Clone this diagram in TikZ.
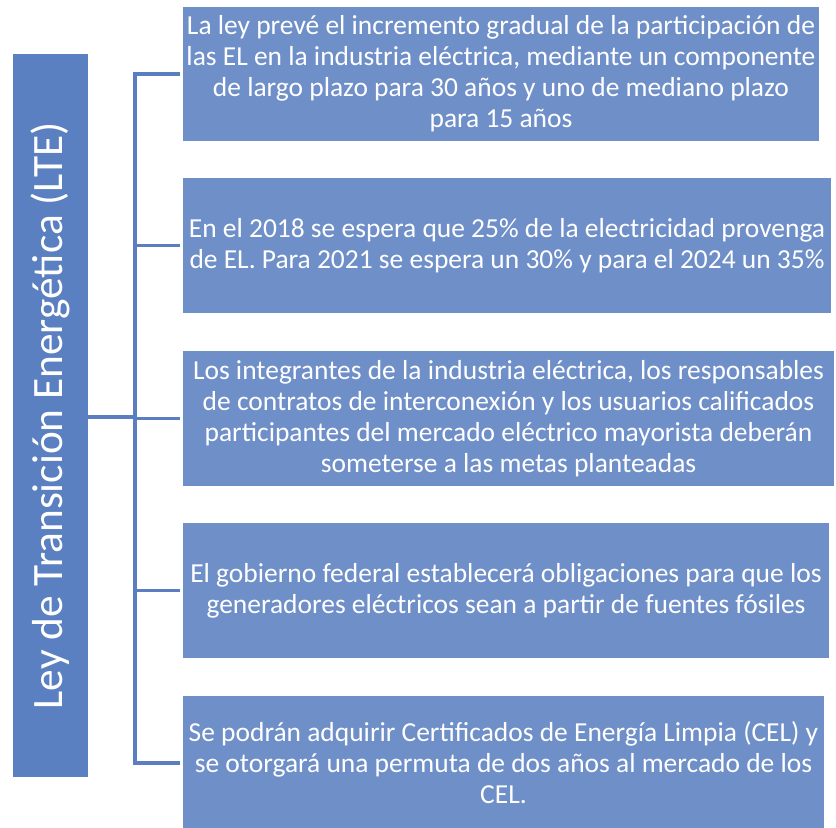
\documentclass[tikz,border=0pt]{standalone}
\usepackage{fontspec}
\setmainfont{Carlito}
\usepackage{tikz}
\definecolor{ltebox}{HTML}{5A80C2}
\definecolor{itembox}{HTML}{6F8FC9}
\definecolor{ltewire}{HTML}{5B7EC2}

\tikzset{
  itemnode/.style={draw=none, fill=itembox, rectangle, inner sep=0pt, align=center, text=white, minimum height=101pt, font=\fontsize{20.6pt}{23.25pt}\selectfont},
  wire/.style={draw=ltewire, line width=2.6pt, shorten >=2pt}
}

\begin{document}
\begin{tikzpicture}[x=0.75pt, y=-0.75pt]%
\useasboundingbox (0,0) rectangle (836,828);%
\node[fill=ltebox, rectangle, minimum width=56.25pt, minimum height=542.25pt, inner sep=0pt] (lte) at (50.5, 415.5) {};%
\node[rotate=90, text=white] (ltetext) at (lte.center) {\fontsize{32.5pt}{36pt}\selectfont Ley de Transición Energética (LTE)};%
\node[itemnode, minimum width=477pt] (it1) at (501, 74) {La ley prevé el incremento gradual de la participación de\\las EL en la industria eléctrica, mediante un componente\\de largo plazo para 30 años y uno de mediano plazo\\para 15 años};%
\node[itemnode, minimum width=486pt] (it2) at (507, 245.5) {En el 2018 se espera que 25\% de la electricidad provenga\\de EL. Para 2021 se espera un 30\% y para el 2024 un 35\%};%
\node[itemnode, minimum width=488pt] (it3) at (508.5, 418.5) {Los integrantes de la industria eléctrica, los responsables\\de contratos de interconexión y los usuarios calificados\\participantes del mercado eléctrico mayorista deberán\\someterse a las metas planteadas};%
\node[itemnode, minimum width=484.5pt] (it4) at (506, 590.5) {El gobierno federal establecerá obligaciones para que los\\generadores eléctricos sean a partir de fuentes fósiles};%
\node[itemnode, minimum width=480.75pt] (it5) at (503.5, 763) {Se podrán adquirir Certificados de Energía Limpia (CEL) y\\se otorgará una permuta de dos años al mercado de los\\CEL.};%
\coordinate (hub) at (135, 417);%
\draw[wire, shorten >=0pt] (lte.east |- hub) -- (hub);%
\draw[wire, shorten >=0pt, line cap=rect] (hub |- it1.west) -- (hub |- it5.west);%
\foreach \n in {1,...,5}{%
\draw[wire] (hub |- it\n.west) -- (it\n.west);%
}%
\end{tikzpicture}
\end{document}
